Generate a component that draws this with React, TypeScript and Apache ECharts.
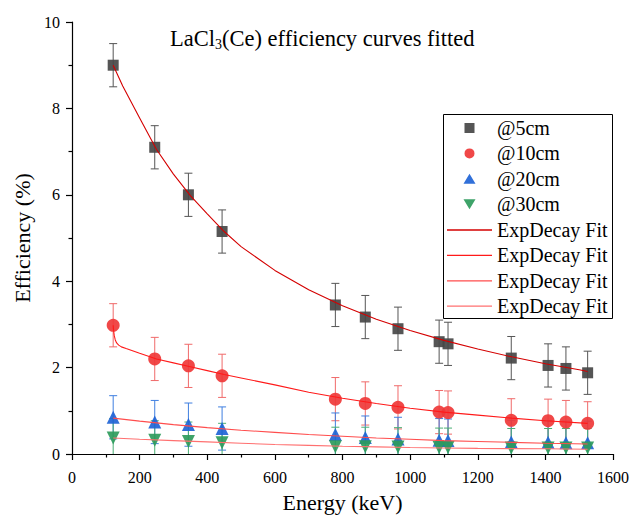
import React, { useEffect, useRef } from "react";
import * as echarts from "echarts";

const energies = [121.8, 244.7, 344.3, 443.9, 778.9, 867.4, 964.1, 1085.8, 1112.1, 1299.1, 1408.0, 1460.8, 1525.0];

const eff5 = [9.0, 7.1, 6.0, 5.15, 3.45, 3.17, 2.9, 2.6, 2.55, 2.22, 2.05, 1.98, 1.88];
const eff10 = [2.98, 2.2, 2.04, 1.81, 1.27, 1.17, 1.08, 0.97, 0.96, 0.78, 0.77, 0.74, 0.71];
const eff20 = [0.85, 0.74, 0.68, 0.59, 0.45, 0.38, 0.35, 0.32, 0.31, 0.28, 0.27, 0.26, 0.26];
const eff30 = [0.37, 0.32, 0.29, 0.26, 0.17, 0.17, 0.16, 0.15, 0.15, 0.14, 0.14, 0.14, 0.14];

const err5 = [0.5, 0.5, 0.5, 0.5, 0.5, 0.5, 0.5, 0.5, 0.5, 0.5, 0.5, 0.5, 0.5];
const err10 = [0.5, 0.5, 0.5, 0.5, 0.5, 0.5, 0.5, 0.5, 0.5, 0.5, 0.5, 0.5, 0.5];
const err20 = [0.5, 0.5, 0.5, 0.5, 0.5, 0.5, 0.5, 0.5, 0.5, 0.5, 0.5, 0.5, 0.5];
const err30 = [0.45, 0.45, 0.45, 0.45, 0.45, 0.45, 0.45, 0.45, 0.45, 0.45, 0.45, 0.45, 0.45];

// Fitted curves
const fit5X = [121.8, 150, 200, 250, 300, 350, 400, 450, 500, 600, 700, 800, 900, 1000, 1100, 1200, 1300, 1400, 1500, 1525];
const fit5Y = [9.0, 8.52, 7.78, 7.05, 6.48, 5.98, 5.56, 5.15, 4.8, 4.25, 3.8, 3.43, 3.12, 2.86, 2.63, 2.43, 2.25, 2.09, 1.95, 1.91];
const fit10X = [121.8, 123, 125, 128, 132, 138, 146, 160, 200, 250, 300, 350, 400, 450, 500, 600, 700, 800, 900, 1000, 1100, 1200, 1300, 1400, 1525];
const fit10Y = [2.98, 2.86, 2.74, 2.64, 2.57, 2.52, 2.48, 2.44, 2.33, 2.2, 2.11, 2.02, 1.93, 1.84, 1.76, 1.6, 1.43, 1.29, 1.17, 1.06, 0.97, 0.9, 0.83, 0.77, 0.71];
const fit20X = [121.8, 200, 300, 400, 500, 600, 700, 800, 900, 1000, 1100, 1200, 1300, 1400, 1525];
const fit20Y = [0.83, 0.76, 0.68, 0.61, 0.55, 0.5, 0.45, 0.41, 0.37, 0.34, 0.31, 0.29, 0.27, 0.25, 0.23];
const fit30X = [121.8, 200, 300, 400, 500, 600, 700, 800, 900, 1000, 1100, 1200, 1300, 1400, 1525];
const fit30Y = [0.37, 0.34, 0.31, 0.28, 0.25, 0.22, 0.2, 0.18, 0.165, 0.15, 0.14, 0.13, 0.125, 0.12, 0.11];

const seriesNames = ["@5cm", "@10cm", "@20cm", "@30cm"];
const fitName = "ExpDecay Fit";
const xName = "Energy (keV)";
const yName = "Efficiency (%)";

const FONT = "Liberation Serif";

export default function App() {
  const ref = useRef<HTMLDivElement>(null);
  useEffect(() => {
    if (!ref.current) return;
    const chart = echarts.init(ref.current, undefined, { renderer: "svg" });

    const pts = (vals: number[]) => energies.map((e, i) => [e, vals[i]]);
    const errs = (vals: number[], er: number[]) => energies.map((e, i) => [e, vals[i] - er[i], vals[i] + er[i]]);
    const fit = (xs: number[], ys: number[]) => xs.map((x, i) => [x, ys[i]]);

    const errSeries = (data: number[][], color: string) => ({
      type: "custom",
      clip: true,
      z: 1,
      silent: true,
      renderItem: (params: any, api: any) => {
        const x = api.value(0);
        const lo = api.coord([x, api.value(1)]);
        const hi = api.coord([x, api.value(2)]);
        const w = 4;
        const st = { stroke: color, lineWidth: 1 };
        return {
          type: "group",
          children: [
            { type: "line", shape: { x1: lo[0], y1: lo[1], x2: hi[0], y2: hi[1] }, style: st },
            { type: "line", shape: { x1: lo[0] - w, y1: lo[1], x2: lo[0] + w, y2: lo[1] }, style: st },
            { type: "line", shape: { x1: hi[0] - w, y1: hi[1], x2: hi[0] + w, y2: hi[1] }, style: st },
          ],
        };
      },
      encode: { x: 0, y: [1, 2] },
      data,
    });

    const colors = ["#474747", "#ef3838", "#1f64d6", "#2e9b5c"];
    const errColors = ["#555555", "#f06a6a", "#3f7fe0", "#4aae74"];
    const fitColors = ["#d40000", "#ff1a1a", "#ff4d4d", "#ff7070"];
    const symbols = ["rect", "circle", "triangle", "triangle"];
    // icons padded to a 45-wide box with zero-area sub-paths so they stay centred
    const pad = "M0,5L0,5ZM45,5L45,5Z";
    const legendIcons = [
      "path://" + pad + "M17.5,0H27.5V10H17.5Z",
      "path://" + pad + "M17,5A5.5,5.5 0 1,0 28,5A5.5,5.5 0 1,0 17,5Z",
      "path://" + pad + "M22.5,0L28.5,10L16.5,10Z",
      "path://" + pad + "M16.5,0L28.5,0L22.5,10Z",
    ];
    const rot = [0, 0, 0, 180];
    const effs = [eff5, eff10, eff20, eff30];
    const errsA = [err5, err10, err20, err30];
    const fits = [fit(fit5X, fit5Y), fit(fit10X, fit10Y), fit(fit20X, fit20Y), fit(fit30X, fit30Y)];
    const fitNames = [0, 1, 2, 3].map((i) => fitName + "\u200b".repeat(i));

    const series: any[] = [];
    for (let i = 0; i < 4; i++) {
      series.push(errSeries(errs(effs[i], errsA[i]), errColors[i]));
    }
    for (let i = 0; i < 4; i++) {
      series.push({
        type: "scatter",
        name: seriesNames[i],
        symbol: symbols[i],
        symbolRotate: rot[i],
        symbolSize: i === 0 ? 11 : 13,
        itemStyle: { color: colors[i], opacity: 0.92 },
        z: 2,
        data: pts(effs[i]),
      });
    }
    for (let i = 0; i < 4; i++) {
      series.push({
        type: "line",
        name: fitNames[i],
        symbol: "none",
        smooth: false,
        lineStyle: { color: fitColors[i], width: 1.1 },
        itemStyle: { color: fitColors[i] },
        z: 3,
        data: fits[i],
      });
    }

    const axisCommon = {
      axisLine: { show: true, lineStyle: { color: "#000", width: 1.2 } },
      axisTick: { show: true, inside: false, length: 6, lineStyle: { color: "#000", width: 1.2 } },
      minorTick: { show: true, splitNumber: 2, length: 3.5, lineStyle: { color: "#000", width: 1.2 } },
      splitLine: { show: false },
      nameTextStyle: { color: "#000", fontFamily: FONT, fontSize: 22, fontWeight: "normal" },
    };
    const labelStyle = {
      color: "#000",
      fontFamily: FONT,
      fontSize: 16,
      fontWeight: "normal",
      formatter: (v: number) => String(v),
    };

    const legendText = { fontFamily: FONT, fontSize: 20, lineHeight: 20, color: "#000" };

    chart.setOption({
      animation: false,
      backgroundColor: "#fff",
      textStyle: { fontFamily: FONT },
      title: {
        text: "LaCl{sub|3}(Ce) efficiency curves fitted",
        left: 165,
        top: 21,
        textStyle: {
          fontFamily: FONT,
          fontSize: 22.5,
          fontWeight: "normal",
          color: "#000",
          rich: {
            sub: { fontFamily: FONT, fontSize: 14, color: "#000", padding: [11, 0, 0, 0] },
          },
        },
      },
      graphic: [
        {
          type: "rect",
          shape: { x: 443.5, y: 114.5, width: 169, height: 204 },
          style: { fill: "none", stroke: "#000", lineWidth: 1 },
          z: 10,
        },
      ],
      legend: [
        {
          orient: "vertical",
          left: 443,
          top: 114,
          padding: [4, 4, 4, 4],
          itemWidth: 45,
          itemHeight: 10,
          itemGap: 5.4,
          symbolKeepAspect: true,
          textStyle: legendText,
          data: seriesNames.map((n, i) => ({
            name: n,
            icon: legendIcons[i],
            itemStyle: { color: colors[i], borderWidth: 0 },
          })),
        },
        {
          orient: "vertical",
          left: 443,
          top: 216,
          padding: [4, 4, 4, 4],
          itemWidth: 45,
          itemHeight: 20,
          itemGap: 5.4,
          symbolKeepAspect: true,
          textStyle: legendText,
          data: fitNames.map((n, i) => ({
            name: n,
            icon: "path://M0,0H45V1.3H0Z",
            itemStyle: { color: fitColors[i], borderWidth: 0 },
          })),
        },
      ],
      grid: { left: 72, right: 19, top: 22, bottom: 62, containLabel: false },
      xAxis: {
        type: "value",
        min: 0,
        max: 1600,
        interval: 200,
        name: xName,
        nameLocation: "middle",
        nameGap: 37,
        ...axisCommon,
        axisLabel: { ...labelStyle, margin: 15 },
      },
      yAxis: {
        type: "value",
        min: 0,
        max: 10,
        interval: 2,
        name: yName,
        nameLocation: "middle",
        nameGap: 38,
        ...axisCommon,
        axisLabel: { ...labelStyle, margin: 12 },
      },
      series,
    });
    return () => chart.dispose();
  }, []);
  return <div ref={ref} style={{ width: 632, height: 518, position: "absolute", left: 0, top: 0 }} />;
}
